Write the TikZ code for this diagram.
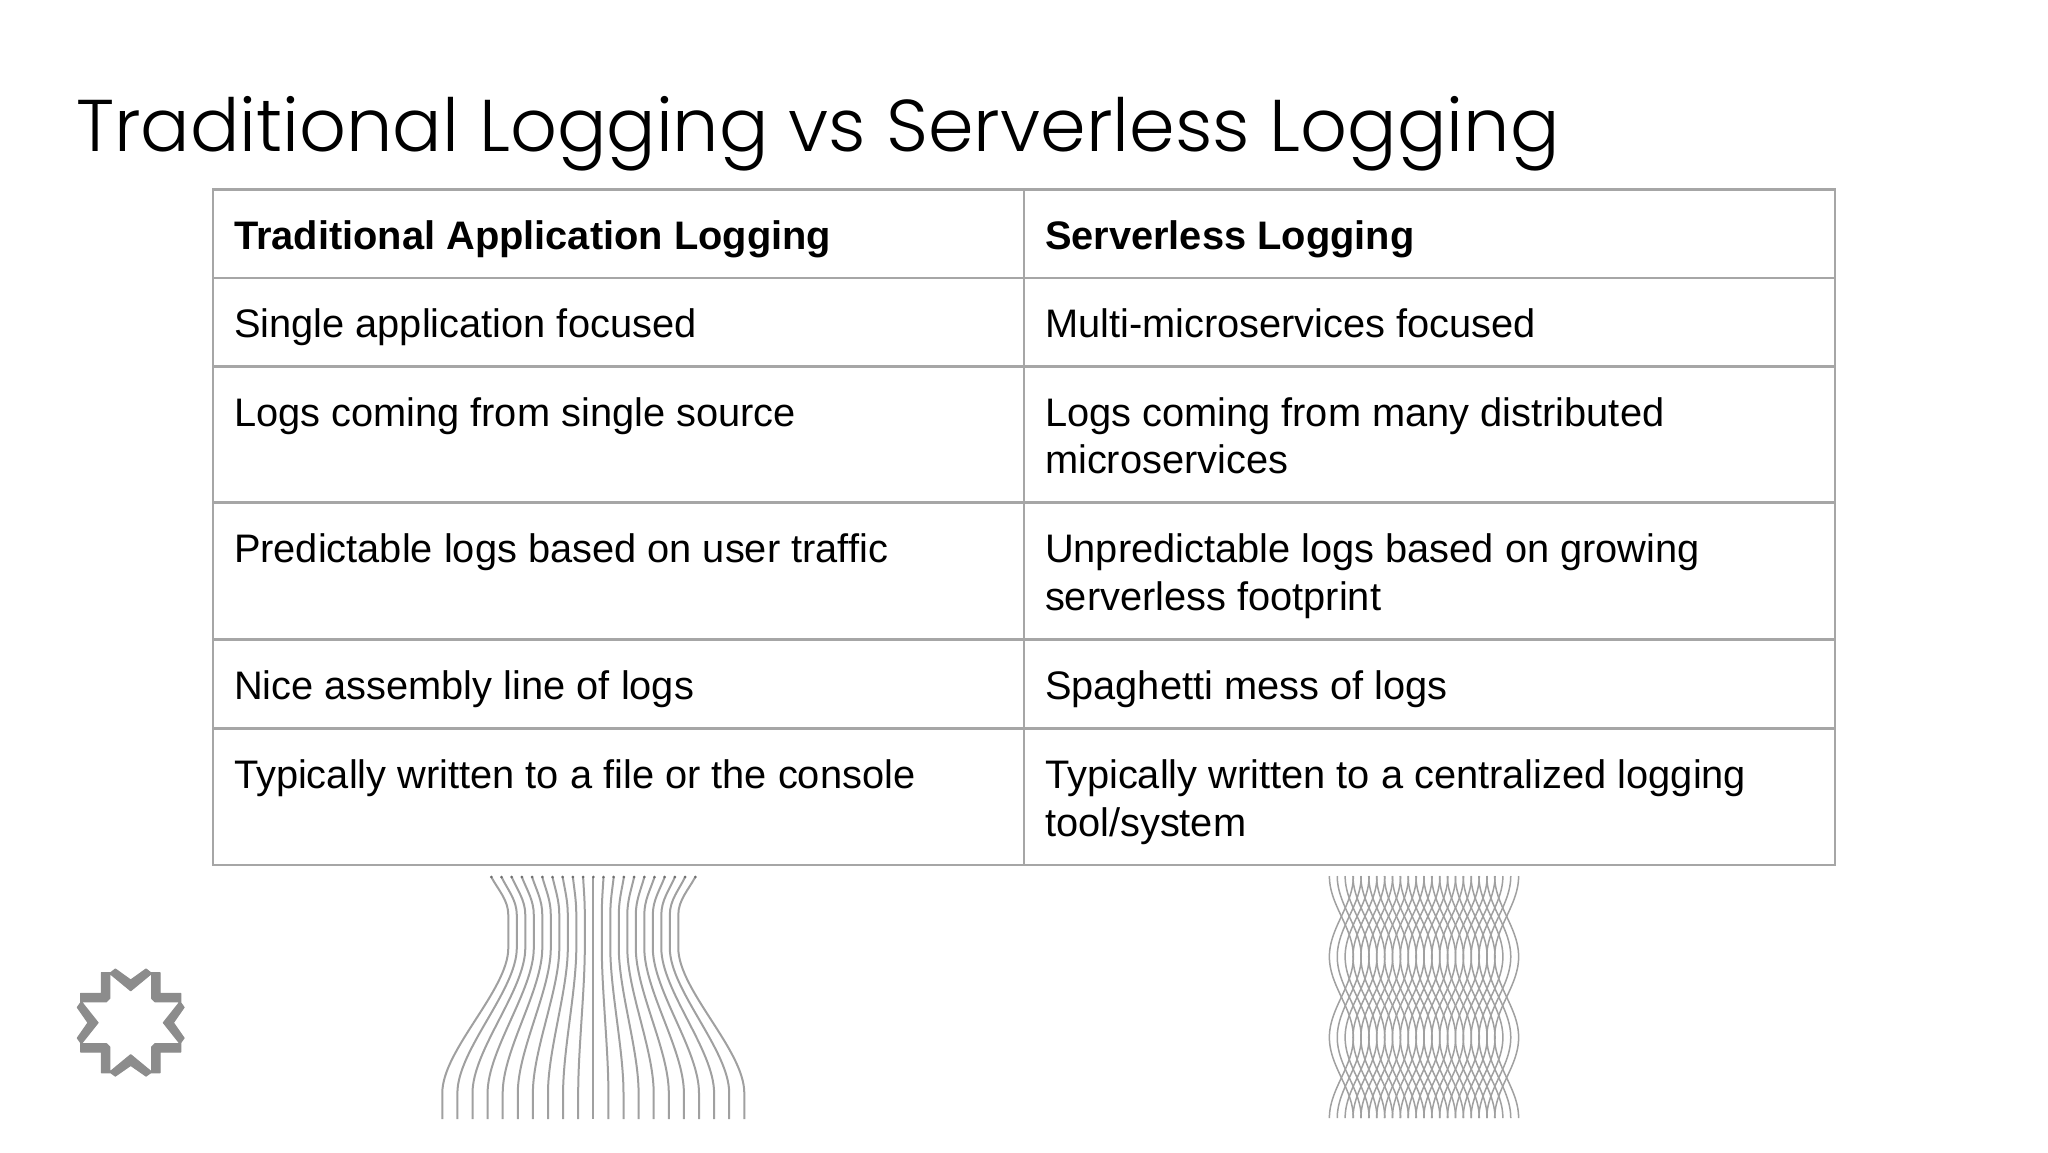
\documentclass[tikz,border=0pt]{standalone}
\usepackage{fontspec}
\setmainfont{Liberation Sans}
\newfontfamily\titlefont{Poppins Light}
\usepackage{xcolor}
\definecolor{ruleGray}{HTML}{A6A6A6}
\definecolor{wireGray}{HTML}{A0A0A0}
\definecolor{logoGray}{HTML}{8C8C8C}
\tikzset{
  cell/.style={draw=ruleGray, line width=2.2pt, anchor=north west, outer sep=0pt,
    inner xsep=21pt, inner ysep=0pt, text width=769pt, align=flush left,
    font=\fontsize{39.8}{47.5}\selectfont, text height=59.5pt, text depth=29pt},
  tallcell/.style={cell, text depth=76.5pt},
  headcell/.style={cell, font=\fontsize{39.8}{47.5}\selectfont\bfseries},
  wire/.style={draw=wireGray, line width=2pt},
  thinwire/.style={draw=wireGray, line width=1.5pt}
}

\begin{document}
\begin{tikzpicture}[x=1pt, y=-1pt]
\useasboundingbox (0,0) rectangle (2048,1152);
\node[anchor=base west, inner sep=0pt, font=\fontsize{73.3}{80}\selectfont\titlefont] (title) at (76,151) {Traditional Logging vs Serverless Logging};
\node[headcell] (h1) at (213,189.5) {Traditional Application Logging};
\node[headcell] (h2) at (1024,189.5) {Serverless Logging};
\node[cell] (a1) at (213,278) {Single application focused};
\node[cell] (b1) at (1024,278) {Multi-microservices focused};
\node[tallcell] (a2) at (213,366.5) {Logs coming from single source};
\node[tallcell] (b2) at (1024,366.5) {Logs coming from many distributed\\microservices};
\node[tallcell] (a3) at (213,503) {Predictable logs based on user traffic};
\node[tallcell] (b3) at (1024,503) {Unpredictable logs based on growing\\serverless footprint};
\node[cell] (a4) at (213,640) {Nice assembly line of logs};
\node[cell] (b4) at (1024,640) {Spaghetti mess of logs};
\node[tallcell] (a5) at (213,729) {Typically written to a file or the console};
\node[tallcell] (b5) at (1024,729) {Typically written to a centralized logging\\tool/system};
% funnel of log lines
\foreach \i in {-10,...,10} {
  \draw[wire] ({593.3+10.2*\i},877) .. controls ({593.3+9.5*\i},890) and ({593.3+8.5*\i},900) .. ({593.3+8.5*\i},915)
    -- ({593.3+8.5*\i},948) .. controls ({593.3+8.5*\i},990) and ({593.3+15.1*\i},1050) .. ({593.3+15.1*\i},1093)
    -- ({593.3+15.1*\i},1119);
  \fill[wireGray!70!black] ({593.3+10.2*\i},877) circle (1.5pt);
}
% woven log lines
\foreach \j in {0,...,21} {
  \draw[thinwire] plot[variable=\t, domain=0:3, samples=49, smooth] ({1424+7.87*(\j-10.5)+12*cos(180*\t)},{876+80.7*\t});
  \draw[thinwire] plot[variable=\t, domain=0:3, samples=49, smooth] ({1424+7.87*(\j-10.5)-12*cos(180*\t)},{876+80.7*\t});
}
% logo
\begin{scope}[shift={(130.7,1022.7)}, scale=0.3333]
\filldraw[logoGray, line width=1.2pt, line join=round, even odd rule]
  (0,-128) -- (46,-161) -- (60,-150) -- (88,-150) -- (88,-88) -- (150,-88) -- (150,-60) -- (160,-46)
  -- (128,0) -- (160,46) -- (150,60) -- (150,88) -- (88,88) -- (88,150) -- (60,150) -- (46,160)
  -- (0,128) -- (-46,160) -- (-60,150) -- (-88,150) -- (-88,88) -- (-150,88) -- (-150,60) -- (-160,46)
  -- (-128,0) -- (-160,-46) -- (-150,-60) -- (-150,-88) -- (-88,-88) -- (-88,-150) -- (-60,-150) -- (-46,-161) -- cycle
  (0,-96) -- (63,-148) -- (63,-73) -- (73,-63) -- (148,-63)
  -- (98,0) -- (148,63) -- (73,63) -- (63,73) -- (63,148)
  -- (0,96) -- (-63,148) -- (-63,73) -- (-73,63) -- (-148,63)
  -- (-98,0) -- (-148,-63) -- (-73,-63) -- (-63,-73) -- (-63,-148) -- cycle;
\end{scope}
\end{tikzpicture}
\end{document}
